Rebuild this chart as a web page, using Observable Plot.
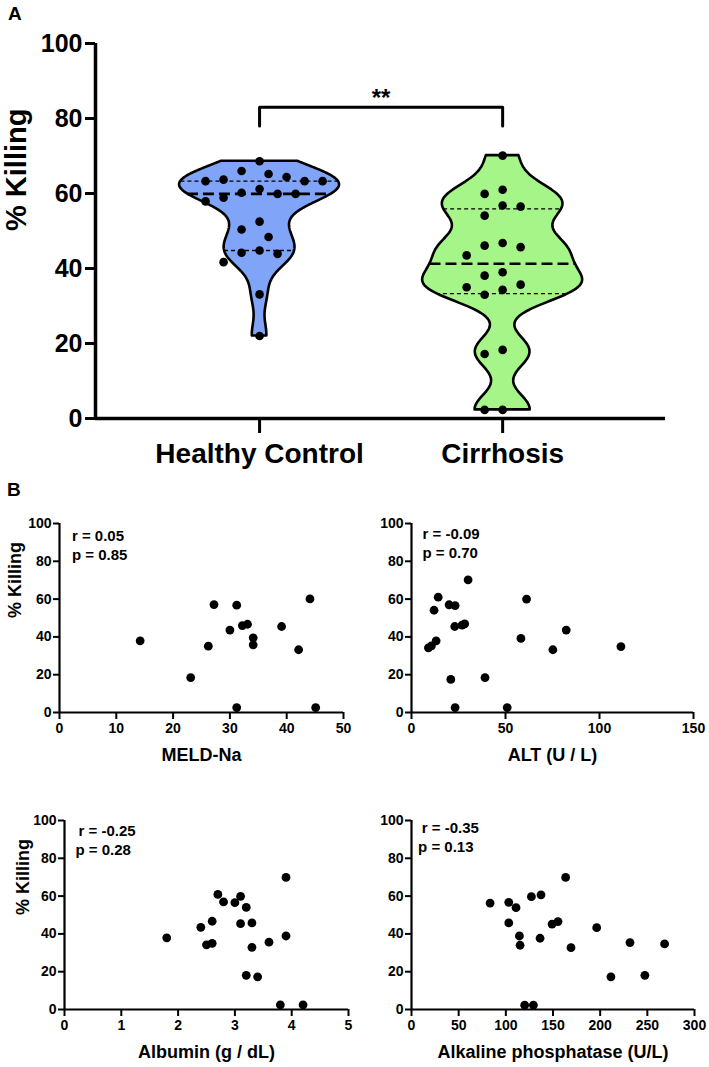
<!DOCTYPE html>
<html><head><meta charset="utf-8">
<script src="https://cdn.jsdelivr.net/npm/d3@7"></script>
<script src="https://cdn.jsdelivr.net/npm/@observablehq/plot@0.6"></script>
<style>
body{margin:0;background:#fff;}
#root{position:relative;width:709px;height:1067px;overflow:hidden;font-family:"Liberation Sans",Arial,Helvetica,sans-serif;}
.panel{position:absolute;}
.tag{position:absolute;font-weight:bold;font-size:19px;line-height:1;}
</style></head><body><div id="root"></div>
<script>
// ---------- Panel A data ----------
const groups = ["Healthy Control", "Cirrhosis"];
const groupColors = ["#80a4f7", "#a6f589"];
const healthyKilling = [68.6,66.0,65.2,64.4,63.7,63.3,63.3,63.3,61.2,60.2,59.9,59.9,58.9,57.9,52.5,50.4,48.4,44.8,44.2,43.9,41.7,33.1,22.0];
const cirrhosisKilling = [70.1,61.0,59.9,56.8,56.5,54.1,46.8,46.1,45.7,43.5,39.0,38.1,35.7,35.0,34.3,33.0,18.3,17.2,2.3,2.3];
const yTicksA = [0,20,40,60,80,100];
const significance = {top: 83, bottom: 78, label: "**"};

// ---------- Panel B data ----------
const meldNa = [14.2,23.1,26.2,27.2,30.0,31.2,31.2,32.2,33.1,34.1,34.1,39.1,42.1,44.1,45.1];
const meldKilling = [37.9,18.5,35.1,57.1,43.6,56.8,2.6,46.0,46.7,39.5,35.8,45.5,33.2,60.1,2.6];
const altValues = [9.0,10.6,13.1,12.0,14.2,20.0,23.2,23.0,26.9,28.3,30.1,20.9,23.2,39.1,50.9,58.2,61.2,75.2,82.3,111.4];
const altKilling = [34.2,35.3,37.9,54.1,61.0,57.0,56.6,45.5,46.2,46.9,70.2,17.5,2.6,18.5,2.6,39.2,60.0,33.2,43.6,34.9];
const albuminValues = [1.8,2.4,2.5,2.6,2.6,2.7,2.8,3.0,3.1,3.1,3.2,3.2,3.3,3.3,3.4,3.6,3.9,3.9,3.8,4.2];
const albuminKilling = [37.9,43.5,34.2,35.0,46.7,60.9,56.9,56.5,45.4,59.9,54.0,18.1,45.8,32.9,17.3,35.6,69.9,38.9,2.5,2.5];
const alpValues = [83.3,103.1,103.1,110.8,114.4,115.1,120.0,127.1,129.2,136.3,137.3,149.0,155.3,163.4,169.1,196.3,211.4,231.6,247.4,268.3];
const alpKilling = [56.3,56.7,45.8,53.9,38.9,34.0,2.3,59.7,2.3,37.7,60.7,45.2,46.5,69.9,32.7,43.3,17.3,35.4,18.1,34.7];
const yTicksB = [0,20,40,60,80,100];
const xLabels = ["MELD-Na", "ALT (U / L)", "Albumin (g / dL)", "Alkaline phosphatase (U/L)"];
const xTicksB = [[0,10,20,30,40,50],[0,50,100,150],[0,1,2,3,4,5],[0,50,100,150,200,250,300]];
const rValues = ["0.05","-0.09","-0.25","-0.35"];
const pValues = ["0.85","0.70","0.28","0.13"];

const FONT = "'Liberation Sans', Arial, Helvetica, sans-serif";
const root = document.getElementById("root");

function place(el, left, top) {
  const d = document.createElement("div");
  d.className = "panel"; d.style.left = left + "px"; d.style.top = top + "px";
  d.appendChild(el); root.appendChild(d);
}
function tag(t, left, top) {
  const d = document.createElement("div");
  d.className = "tag"; d.textContent = t; d.style.left = left + "px"; d.style.top = top + "px";
  root.appendChild(d);
}

// ---------- helpers for violins ----------
function kde(values, h) {
  return y => d3.sum(values, v => Math.exp(-0.5 * ((y - v) / h) ** 2));
}
function quartile(values, p) {
  const s = values.slice().sort((a,b)=>a-b), n = s.length;
  const pos = p * (n + 1);
  const lo = Math.max(1, Math.min(n, Math.floor(pos))), hi = Math.max(1, Math.min(n, Math.ceil(pos)));
  return s[lo-1] + (pos - Math.floor(pos)) * (s[hi-1] - s[lo-1]);
}
function swarm(values, pxPerY, pxPerX, minDist, step) {
  const order = values.map((v,i)=>i).sort((a,b)=>values[b]-values[a]);
  const placed = [], offs = new Array(values.length);
  for (const i of order) {
    const y = values[i] * pxPerY;
    for (let k = 0; k < 60; k++) {
      const cands = k === 0 ? [0] : (k % 2 ? [k*step, -k*step] : [-k*step, k*step]);
      const c = cands.find(c => placed.every(([px,py]) => Math.hypot(px-c, py-y) >= minDist));
      if (c !== undefined) { placed.push([c, y]); offs[i] = c / pxPerX; break; }
    }
  }
  return offs;
}

// ---------- Panel A ----------
{
  const W = 709, H = 470, mL = 95, mR = 44, mT = 43, mB = 52;
  const xDomain = [0.325, 2.67];
  const pxPerX = (W - mL - mR) / (xDomain[1] - xDomain[0]);
  const pxPerY = (H - mT - mB) / 100;
  const maxHalf = 80 / pxPerX;
  const series = [healthyKilling, cirrhosisKilling];
  const bandwidths = [4.0, 4.3];
  const areaMarks = [], ruleMarks = [], dots = [];
  series.forEach((vals, gi) => {
    const pos = gi + 1;
    const f = kde(vals, bandwidths[gi]);
    const lo = d3.min(vals), hi = d3.max(vals);
    const grid = d3.range(0, 201).map(i => lo + (hi - lo) * i / 200);
    const fmax = d3.max(grid, f);
    const half = y => maxHalf * f(y) / fmax;
    const area = grid.map(y => ({y, x1: pos - half(y), x2: pos + half(y)}));
    areaMarks.push(Plot.areaX(area, {y: "y", x1: "x1", x2: "x2", fill: groupColors[gi], stroke: "black", strokeWidth: 2.6, strokeLinejoin: "round"}));
    [0.25, 0.5, 0.75].forEach((p, qi) => {
      const y = quartile(vals, p);
      ruleMarks.push(Plot.ruleY([{y, x1: pos - half(y), x2: pos + half(y)}], {y: "y", x1: "x1", x2: "x2", stroke: "black",
        strokeWidth: qi === 1 ? 2.6 : 1.3, strokeDasharray: qi === 1 ? "11,5" : "4,3"}));
    });
    const offs = swarm(vals, pxPerY, pxPerX, 15.5, 9);
    vals.forEach((v, i) => dots.push({x: pos + offs[i], y: v}));
  });
  const plot = Plot.plot({
    width: W, height: H, marginLeft: mL, marginRight: mR, marginTop: mT, marginBottom: mB,
    style: {fontFamily: FONT, fontWeight: "bold", color: "black", background: "white", overflow: "visible"},
    x: {domain: xDomain}, y: {domain: [0, 100]},
    marks: [
      ...areaMarks,
      ...ruleMarks,
      Plot.dot(dots, {x: "x", y: "y", r: 4.3, fill: "black", stroke: "none"}),
      Plot.line([[1, significance.bottom],[1, significance.top],[2, significance.top],[2, significance.bottom]], {stroke: "black", strokeWidth: 3}),
      Plot.text([significance.label], {x: 1.5, y: significance.top, text: d => d, fontSize: 24, lineAnchor: "bottom", dy: -1}),
      Plot.ruleY([0], {stroke: "black", strokeWidth: 3.5}),
      Plot.ruleX([xDomain[0]], {stroke: "black", strokeWidth: 3.5}),
      Plot.axisY({ticks: yTicksA, tickSize: 10, tickPadding: 3, fontSize: 25, strokeWidth: 3, label: null}),
      Plot.axisX({ticks: [1, 2], tickFormat: d => groups[d - 1], tickSize: 15, tickPadding: 10, fontSize: 28, strokeWidth: 3, label: null}),
      Plot.text(["% Killing"], {frameAnchor: "left", text: d => d, rotate: -90, dx: -79, fontSize: 29})
    ]
  });
  place(plot, 0, 0);
}
tag("A", 8, 4);
tag("B", 7, 480);

// ---------- Panel B ----------
const scatterLayout = [
  {left: 0,   top: 500, width: 355, mL: 59, mR: 12, xs: meldNa,        ys: meldKilling,    xDomain: [0,50],  yLabel: true,  ylDx: -44, r: [12.4, 6.5], p: [12.4, 6.5]},
  {left: 355, top: 500, width: 354, mL: 56, mR: 16, xs: altValues,     ys: altKilling,     xDomain: [0,150], yLabel: false, r: [11, 5], p: [11, 5]},
  {left: 0,   top: 797, width: 355, mL: 64, mR: 7,  xs: albuminValues, ys: albuminKilling, xDomain: [0,5],   yLabel: true,  ylDx: -41, r: [14, 4.6], p: [11, 4.6]},
  {left: 355, top: 797, width: 354, mL: 56, mR: 15, xs: alpValues,     ys: alpKilling,     xDomain: [0,300], yLabel: false, r: [10.3, 1.5], p: [6.6, 1.5]}
];
scatterLayout.forEach((L, i) => {
  const H = 270, mT = 23, mB = 58;
  const pts = L.xs.map((x, j) => ({x, y: L.ys[j]}));
  const marks = [
    Plot.dot(pts, {x: "x", y: "y", r: 4.4, fill: "black", stroke: "none"}),
    Plot.ruleY([0], {stroke: "black", strokeWidth: 2.2}),
    Plot.ruleX([L.xDomain[0]], {stroke: "black", strokeWidth: 2.2}),
    Plot.axisY({ticks: yTicksB, tickSize: 6, tickPadding: 2, fontSize: 14, strokeWidth: 2, label: null}),
    Plot.axisX({ticks: xTicksB[i], tickFormat: d3.format("~g"), tickSize: 7, tickPadding: 4, fontSize: 14, strokeWidth: 2, label: null}),
    Plot.text(["r = " + rValues[i]], {frameAnchor: "top-left", text: d => d, textAnchor: "start", lineAnchor: "top", fontSize: 15, dx: L.r[0], dy: L.r[1]}),
    Plot.text(["p = " + pValues[i]], {frameAnchor: "top-left", text: d => d, textAnchor: "start", lineAnchor: "top", fontSize: 15, dx: L.p[0], dy: L.p[1] + 19}),
    Plot.text([xLabels[i]], {frameAnchor: "bottom", text: d => d, lineAnchor: "middle", fontSize: 18, dy: 43})
  ];
  if (L.yLabel) marks.push(Plot.text(["% Killing"], {frameAnchor: "left", text: d => d, rotate: -90, dx: L.ylDx, fontSize: 18}));
  const plot = Plot.plot({
    width: L.width, height: H, marginLeft: L.mL, marginRight: L.mR, marginTop: mT, marginBottom: mB,
    style: {fontFamily: FONT, fontWeight: "bold", color: "black", background: "white", overflow: "visible"},
    x: {domain: L.xDomain}, y: {domain: [0, 100]},
    marks
  });
  place(plot, L.left, L.top);
});
</script></body></html>
